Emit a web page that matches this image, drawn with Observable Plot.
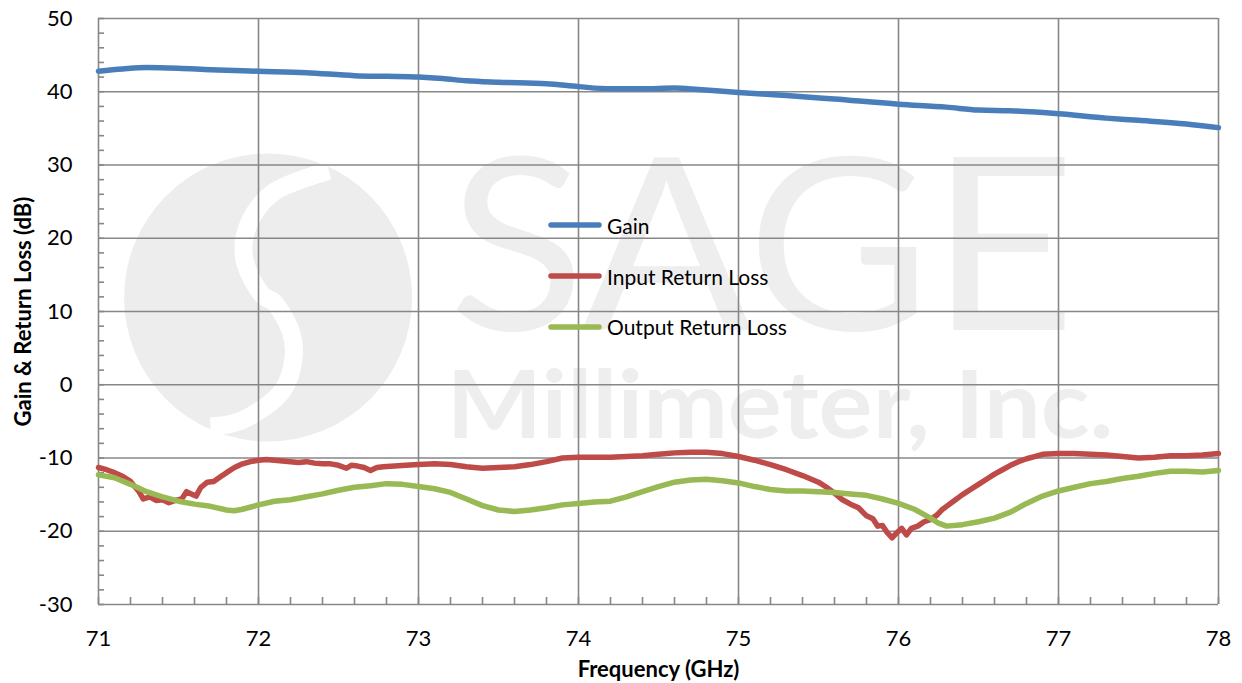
<!DOCTYPE html>
<html>
<head>
<meta charset="utf-8">
<script src="https://cdn.jsdelivr.net/npm/d3@7"></script>
<script src="https://cdn.jsdelivr.net/npm/@observablehq/plot@0.6"></script>
<style>
  html, body { margin: 0; padding: 0; background: #fff; }
  #wrap { position: relative; width: 1242px; height: 683px; overflow: hidden; }
  #chart { position: absolute; left: 0; top: 0; }
  #legend { position: absolute; left: 548px; top: 0; font-family: Lato, sans-serif; font-size: 21px; color: #000; }
  .row { position: absolute; left: 0; height: 26px; display: flex; align-items: center; white-space: nowrap; }
  .row svg { margin-right: 5px; }
</style>
</head>
<body>
<div id="wrap"><div id="chart"></div><div id="legend"></div></div>
<script>
// ---- Data ----
const seriesNames = ["Gain", "Input Return Loss", "Output Return Loss"];
const seriesColors = ["#4A7EBB", "#BE4B48", "#98B954"];

const gainFreq = [71.0, 71.15, 71.3, 71.5, 71.7, 72.0, 72.3, 72.6, 72.8, 73.0, 73.15, 73.3, 73.5, 73.8, 74.0, 74.2, 74.4, 74.6, 74.75, 75.0, 75.3, 75.6, 76.0, 76.3, 76.5, 76.7, 77.0, 77.3, 77.5, 77.8, 78.0];
const gainDb = [42.8, 43.1, 43.3, 43.2, 43.0, 42.8, 42.6, 42.2, 42.1, 42.0, 41.8, 41.5, 41.3, 41.1, 40.7, 40.4, 40.4, 40.5, 40.3, 39.9, 39.5, 39.0, 38.3, 37.9, 37.5, 37.4, 37.0, 36.4, 36.1, 35.6, 35.1];

const irlFreq = [71.00, 71.05, 71.10, 71.15, 71.20, 71.25, 71.28, 71.32, 71.36, 71.40, 71.44, 71.48, 71.52, 71.55, 71.58, 71.61, 71.64, 71.68, 71.72, 71.76, 71.80, 71.85, 71.90, 71.95, 72.00, 72.05, 72.10, 72.15, 72.20, 72.25, 72.30, 72.35, 72.40, 72.45, 72.50, 72.55, 72.58, 72.62, 72.66, 72.70, 72.74, 72.78, 72.85, 72.92, 73.00, 73.10, 73.20, 73.30, 73.40, 73.50, 73.60, 73.70, 73.80, 73.90, 74.00, 74.10, 74.20, 74.30, 74.40, 74.50, 74.60, 74.70, 74.80, 74.90, 75.00, 75.10, 75.20, 75.30, 75.40, 75.50, 75.55, 75.60, 75.65, 75.70, 75.75, 75.80, 75.84, 75.87, 75.90, 75.93, 75.96, 75.99, 76.02, 76.05, 76.08, 76.12, 76.16, 76.20, 76.24, 76.27, 76.30, 76.35, 76.40, 76.45, 76.50, 76.55, 76.60, 76.65, 76.70, 76.75, 76.80, 76.85, 76.90, 77.00, 77.10, 77.20, 77.30, 77.40, 77.50, 77.60, 77.70, 77.80, 77.90, 78.00];
const irlDb = [-11.3, -11.6, -12.0, -12.5, -13.2, -14.5, -15.6, -15.3, -15.8, -15.7, -16.1, -15.8, -15.6, -14.6, -14.9, -15.2, -14.0, -13.3, -13.2, -12.6, -12.0, -11.3, -10.8, -10.5, -10.3, -10.2, -10.3, -10.4, -10.5, -10.6, -10.5, -10.7, -10.8, -10.8, -11.0, -11.4, -11.0, -11.1, -11.3, -11.7, -11.3, -11.2, -11.1, -11.0, -10.9, -10.8, -10.9, -11.2, -11.4, -11.3, -11.2, -10.9, -10.5, -10.0, -9.9, -9.9, -9.9, -9.8, -9.7, -9.5, -9.3, -9.2, -9.2, -9.4, -9.8, -10.3, -10.9, -11.6, -12.4, -13.3, -14.0, -14.8, -15.7, -16.3, -16.8, -17.9, -18.3, -19.3, -19.2, -20.2, -20.9, -20.2, -19.6, -20.5, -19.6, -19.3, -18.7, -18.4, -17.8, -17.1, -16.6, -15.8, -15.0, -14.3, -13.6, -12.9, -12.2, -11.6, -11.0, -10.5, -10.1, -9.8, -9.5, -9.4, -9.4, -9.5, -9.6, -9.8, -10.0, -9.9, -9.7, -9.7, -9.6, -9.4];

const orlFreq = [71.0, 71.1, 71.2, 71.3, 71.4, 71.5, 71.6, 71.7, 71.8, 71.85, 71.9, 72.0, 72.1, 72.2, 72.3, 72.4, 72.5, 72.6, 72.7, 72.8, 72.9, 73.0, 73.1, 73.2, 73.3, 73.4, 73.5, 73.6, 73.7, 73.8, 73.9, 74.0, 74.1, 74.2, 74.3, 74.4, 74.5, 74.6, 74.7, 74.8, 74.9, 75.0, 75.1, 75.2, 75.3, 75.4, 75.5, 75.6, 75.7, 75.8, 75.9, 76.0, 76.1, 76.2, 76.25, 76.3, 76.4, 76.5, 76.6, 76.7, 76.8, 76.9, 77.0, 77.1, 77.2, 77.3, 77.4, 77.5, 77.6, 77.7, 77.8, 77.9, 78.0];
const orlDb = [-12.3, -12.7, -13.6, -14.6, -15.3, -15.9, -16.3, -16.6, -17.1, -17.2, -17.0, -16.4, -15.9, -15.7, -15.3, -14.9, -14.4, -14.0, -13.8, -13.5, -13.6, -13.9, -14.2, -14.7, -15.6, -16.5, -17.1, -17.3, -17.1, -16.8, -16.4, -16.2, -16.0, -15.9, -15.3, -14.6, -13.9, -13.3, -13.0, -12.9, -13.1, -13.4, -13.9, -14.3, -14.5, -14.5, -14.6, -14.7, -14.9, -15.1, -15.6, -16.2, -17.0, -18.2, -18.9, -19.3, -19.1, -18.7, -18.2, -17.4, -16.2, -15.2, -14.5, -14.0, -13.5, -13.2, -12.8, -12.5, -12.1, -11.8, -11.8, -11.9, -11.7];

const xMajorTicks = [71, 72, 73, 74, 75, 76, 77, 78];
const yMajorTicks = [-30, -20, -10, 0, 10, 20, 30, 40, 50];
const xMinorTicks = d3.range(0, 36).map(i => 71 + i * 0.2);
const yMinorTicks = d3.range(-30, 51, 2);

const xTitle = "Frequency (GHz)";
const yTitle = "Gain & Return Loss (dB)";

// watermark (company logo behind the plot)
const wmLogoCircle = [{x: 72.06, y: 11.9}];
const wmLogoS = [
  {x: 72.44, y: 29.2}, {x: 72.09, y: 26.2}, {x: 71.94, y: 22.0}, {x: 71.91, y: 17.3}, {x: 72.03, y: 12.1},
  {x: 72.09, y: 11.4}, {x: 72.20, y: 7.4}, {x: 72.22, y: 3.9}, {x: 72.15, y: -0.8}, {x: 71.89, y: -4.9}, {x: 71.70, y: -5.7}
];
const wmBig = [{x: 75.147, y: 17.9, text: "SAGE", width: 627}];
const wmSmall = [{x: 75.26, y: -3.2, text: "Millimeter, Inc.", width: 667}];

// ---- Build table ----
const rows = [
  ...gainFreq.map((f, i) => ({series: seriesNames[0], f, v: gainDb[i]})),
  ...irlFreq.map((f, i) => ({series: seriesNames[1], f, v: irlDb[i]})),
  ...orlFreq.map((f, i) => ({series: seriesNames[2], f, v: orlDb[i]}))
];

const gridColor = "#878787";

const chart = Plot.plot({
  width: 1242,
  height: 683,
  marginLeft: 98,
  marginRight: 24,
  marginTop: 18,
  marginBottom: 79,
  style: {fontFamily: "Lato, sans-serif", fontSize: "22px", color: "#000", background: "#fff", overflow: "visible"},
  x: {domain: [71, 78]},
  y: {domain: [-30, 50]},
  color: {domain: seriesNames, range: seriesColors},
  marks: [
    // watermark
    Plot.dot(wmLogoCircle, {x: "x", y: "y", r: 144, fill: "#ededed", stroke: null}),
    Plot.line(wmLogoS, {x: "x", y: "y", stroke: "#fff", strokeWidth: 18, curve: "catmull-rom", strokeLinecap: "butt"}),
    Plot.text(wmBig, {x: "x", y: "y", text: "text", fontSize: 240, fill: "#eeeeee", fontWeight: 400}),
    Plot.text(wmSmall, {x: "x", y: "y", text: "text", fontSize: 94, fill: "#eeeeee", fontWeight: 700}),
    // grid
    Plot.gridX({ticks: xMajorTicks, stroke: gridColor, strokeOpacity: 1, strokeWidth: 1.6}),
    Plot.gridY({ticks: yMajorTicks, stroke: gridColor, strokeOpacity: 1, strokeWidth: 1.6}),
    // minor inward ticks
    Plot.tickX(xMinorTicks, {x: d => d, insetTop: 579, stroke: gridColor, strokeWidth: 1.6}),
    Plot.tickY(yMinorTicks, {y: d => d, insetRight: 1114, stroke: gridColor, strokeWidth: 1.6}),
    // axes labels
    Plot.axisX({ticks: xMajorTicks, tickSize: 0, tickPadding: 26, label: null, fontSize: 22, tickFormat: d => String(d)}),
    Plot.axisY({ticks: yMajorTicks, tickSize: 0, tickPadding: 26, label: null, fontSize: 22, tickFormat: d => String(d)}),
    Plot.text([xTitle], {text: d => d, frameAnchor: "bottom", textAnchor: "middle", lineAnchor: "middle", dy: 65, fontWeight: "bold", fontSize: 22}),
    Plot.text([yTitle], {text: d => d, frameAnchor: "left", textAnchor: "middle", lineAnchor: "middle", dx: -75, rotate: -90, fontWeight: "bold", fontSize: 22}),
    // data lines
    Plot.line(rows.filter(d => d.series === seriesNames[0]), {x: "f", y: "v", stroke: seriesColors[0], strokeWidth: 5.5, curve: "monotone-x"}),
    Plot.line(rows.filter(d => d.series === seriesNames[1]), {x: "f", y: "v", stroke: seriesColors[1], strokeWidth: 5.5, strokeLinejoin: "round"}),
    Plot.line(rows.filter(d => d.series === seriesNames[2]), {x: "f", y: "v", stroke: seriesColors[2], strokeWidth: 5.5, strokeLinejoin: "round"})
  ]
});
// stretch watermark words to the logo's width
[...wmBig, ...wmSmall].forEach(w => {
  d3.select(chart).selectAll("text").filter(function() { return this.textContent === w.text; })
    .attr("textLength", w.width).attr("lengthAdjust", "spacingAndGlyphs");
});
document.getElementById("chart").appendChild(chart);

// legend
const legend = document.getElementById("legend");
const legendCenters = [225, 276, 326.5];
seriesNames.forEach((name, i) => {
  const row = document.createElement("div");
  row.className = "row";
  row.style.top = (legendCenters[i] - 13) + "px";
  row.innerHTML = `<svg width="54" height="10"><line x1="3" y1="5" x2="51" y2="5" stroke="${seriesColors[i]}" stroke-width="5.5" stroke-linecap="round"/></svg><span>${name}</span>`;
  legend.appendChild(row);
});
</script>
</body>
</html>
